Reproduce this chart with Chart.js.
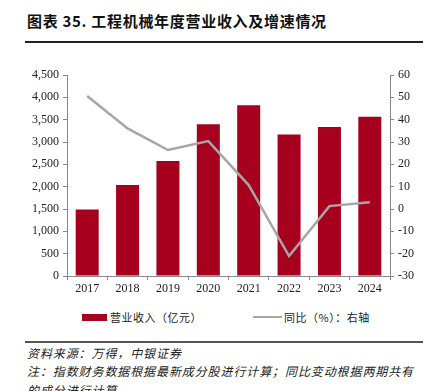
<!DOCTYPE html>
<html><head><meta charset="utf-8">
<script src="https://cdn.jsdelivr.net/npm/chart.js@4/dist/chart.umd.min.js"></script>
<style>
html,body{margin:0;padding:0;background:#fff;width:435px;height:391px;overflow:hidden;position:relative;}
.t{position:absolute;white-space:nowrap;color:#111;}
#title{left:27px;top:10px;font:bold 15px "Noto Sans CJK SC","Liberation Serif";letter-spacing:0.7px;}
.rule{position:absolute;left:25px;width:398px;}
#r1{top:41px;height:1.5px;background:#222;}
#r2{top:341px;height:1.5px;background:#555;}
#cv{position:absolute;left:0;top:55px;}
.leg{font:11px "Noto Sans CJK SC";letter-spacing:0.5px;top:309px;color:#222;}
.foot{font:italic 12px "Noto Sans CJK SC";letter-spacing:0.9px;color:#222;left:27px;}
</style></head><body>
<div id="title" class="t">图表 35. 工程机械年度营业收入及增速情况</div>
<div id="r1" class="rule"></div>
<canvas id="cv" width="435" height="250"></canvas>
<div style="position:absolute;left:82px;top:314px;width:25px;height:7px;background:#A6001E"></div>
<div class="t leg" style="left:110px">营业收入（亿元）</div>
<div style="position:absolute;left:253px;top:316px;width:29px;height:2px;background:#A6A6A6"></div>
<div class="t leg" style="left:284px">同比（%）：右轴</div>
<div id="r2" class="rule"></div>
<div class="t foot" style="top:344px">资料来源：万得，中银证券</div>
<div class="t foot" style="top:362px">注：指数财务数据根据最新成分股进行计算；同比变动根据两期共有</div>
<div class="t foot" style="top:381px">的成分进行计算</div>
<script>
const categories = ["2017","2018","2019","2020","2021","2022","2023","2024"];
const revenue = [1490, 2040, 2575, 3395, 3820, 3170, 3335, 3565];
const yoy = [50.6, 36.1, 26.4, 30.4, 10.7, -21.1, 1.3, 3.0];
const leftTicks = [0,500,1000,1500,2000,2500,3000,3500,4000,4500];
const rightTicks = [-30,-20,-10,0,10,20,30,40,50,60];

Chart.defaults.font.family = "'Liberation Serif', serif";
Chart.defaults.font.size = 12;
Chart.defaults.color = "#222";

new Chart(document.getElementById('cv'), {
  data: {
    labels: categories,
    datasets: [
      {type:'line', label:'同比（%）：右轴', data: yoy, yAxisID:'y2', borderColor:'#A6A6A6', borderWidth:2.5, pointRadius:0, tension:0, order:0},
      {type:'bar', label:'营业收入（亿元）', data: revenue, yAxisID:'y', backgroundColor:'#A6001E', categoryPercentage:0.57, barPercentage:1, order:1}
    ]
  },
  options: {
    responsive:false, devicePixelRatio:1, animation:false,
    layout:{padding:{top:20,left:0,right:0,bottom:0}},
    plugins:{legend:{display:false}, tooltip:{enabled:false}},
    scales:{
      x:{
        grid:{offset:true, drawOnChartArea:false, drawTicks:true, tickLength:4, color:'#888'},
        border:{display:true, color:'#888'},
        ticks:{padding:2, maxRotation:0},
        afterFit(s){ s.height = 29; }
      },
      y:{
        position:'left', min:0, max:4500,
        afterBuildTicks(s){ s.ticks = leftTicks.map(v=>({value:v})); },
        grid:{drawOnChartArea:false, tickLength:4, color:'#888'},
        border:{display:true, color:'#888'},
        ticks:{padding:4, callback:v=>v.toLocaleString('en-US')},
        afterFit(s){ s.width = 67; }
      },
      y2:{
        position:'right', min:-30, max:60,
        afterBuildTicks(s){ s.ticks = rightTicks.map(v=>({value:v})); },
        grid:{drawOnChartArea:false, tickLength:4, color:'#888'},
        border:{display:true, color:'#888'},
        ticks:{padding:4},
        afterFit(s){ s.width = 45; }
      }
    }
  }
});
</script>
</body></html>
